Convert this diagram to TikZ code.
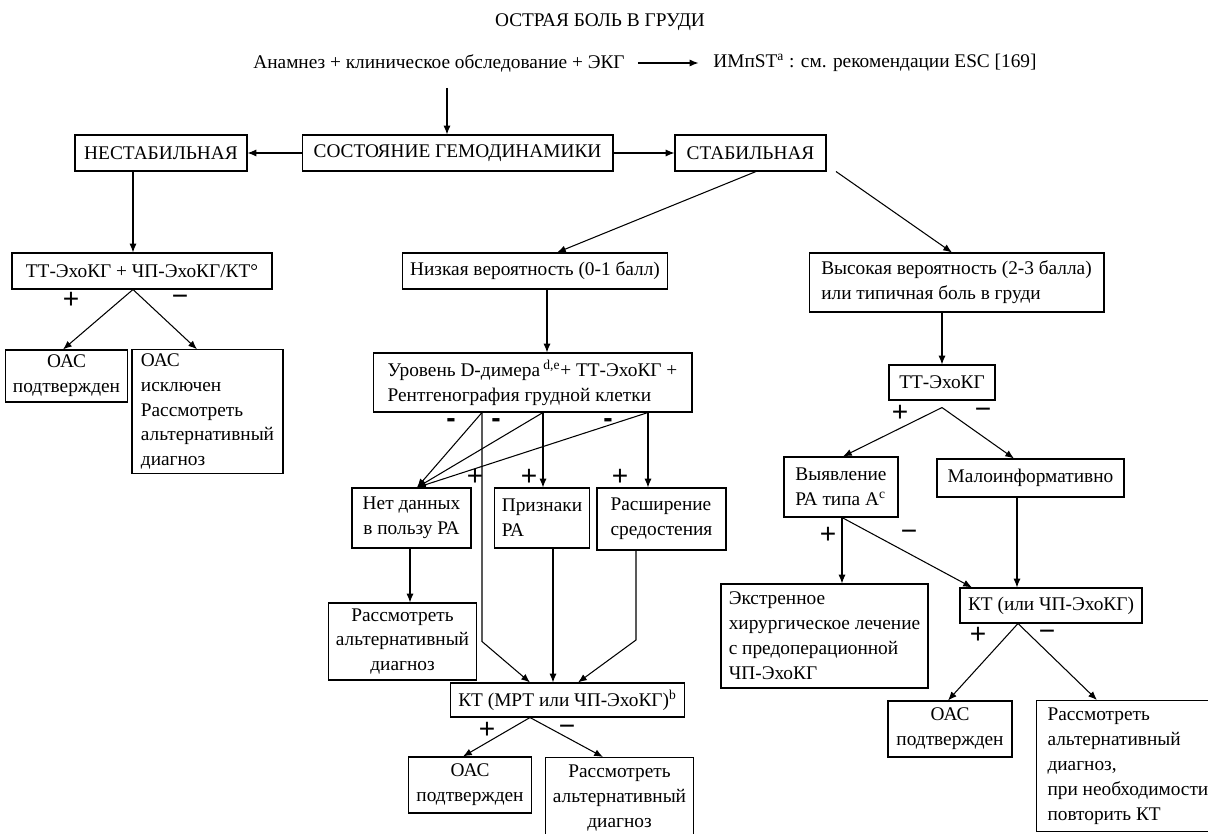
\documentclass[tikz,border=0pt]{standalone}
\usepackage{fontspec}
\setmainfont{Liberation Serif}
\newfontfamily\signfont{Liberation Sans}
\usetikzlibrary{arrows.meta}

\begin{document}
\begin{tikzpicture}[x=0.02cm, y=-0.02cm, font=\fontsize{11}{14.2}\selectfont, >={Latex[length=5pt,width=4pt]}] %pixel units, y downwards
\tikzstyle{box} = [draw, line width=0.6pt, inner xsep=0.15cm, inner ysep=2pt]
\tikzstyle{arr} = [->, line width=0.6pt]
\tikzstyle{sign} = [font=\signfont\fontsize{16}{16}\selectfont]
\tikzstyle{signb} = [font=\signfont\bfseries\fontsize{16}{16}\selectfont, inner sep=1pt, text height=6pt, text depth=0pt]
\useasboundingbox (0,0) rectangle (1208,834);
\clip (0,0) rectangle (1208,834);

% head
\node (title) at (600,22) {ОСТРАЯ БОЛЬ В ГРУДИ};
\node (hist) at (439,63) {Анамнез + клиническое обследование + ЭКГ};
\node (stemi) at (875,63) {ИМпST\textsuperscript{a} : см. рекомендации ESC [169]};
\coordinate (h0) at (447,88);

% hemodynamics
\node[box, minimum width=3.44cm, minimum height=0.72cm] (unstable) at (161,153) {НЕСТАБИЛЬНАЯ};
\node[box, minimum width=6.22cm, minimum height=0.72cm] (hemo) at (457.5,153) {СОСТОЯНИЕ ГЕМОДИНАМИКИ};
\node[box, minimum width=3.02cm, minimum height=0.72cm] (stable) at (750.5,153) {СТАБИЛЬНАЯ};

% unstable branch
\node[box, minimum width=5.2cm, minimum height=0.72cm] (echo1) at (142,271) {ТТ-ЭхоКГ + ЧП-ЭхоКГ/КТ°};
\node[box, minimum width=2.18cm, minimum height=1.04cm, align=center] (oac1) at (66.5,376) {ОАС\\подтвержден};
\node[box, minimum width=3.02cm, minimum height=2.46cm, align=left] (excl) at (207.5,411.5) {ОАС\\исключен\\Рассмотреть\\альтернативный\\диагноз};

% low probability
\node[box, minimum width=5.2cm, minimum height=0.72cm] (low) at (535,271) {Низкая вероятность (0-1 балл)};
\node[box, minimum width=6.38cm, minimum height=1.18cm, align=left] (ddim) at (532.5,382.5) {Уровень D-димера\,\textsuperscript{d,e}+ ТТ-ЭхоКГ +\\Рентгенография грудной клетки};
\node[box, minimum width=2.38cm, minimum height=1.2cm, align=center] (nodata) at (411.5,518) {Нет данных\\в пользу РА};
\node[box, minimum width=1.84cm, minimum height=1.2cm, align=left] (signs) at (542,518) {Признаки\\РА};
\node[box, minimum width=2.58cm, minimum height=1.24cm, align=left] (widen) at (661.5,519) {Расширение\\средостения};
\node[box, minimum width=2.9cm, minimum height=1.54cm, align=center] (altM) at (402.5,641.5) {Рассмотреть\\альтернативный\\диагноз};
\node[box, minimum width=4.58cm, minimum height=0.68cm] (ctM) at (567.5,700) {КТ (МРТ или ЧП-ЭхоКГ)\textsuperscript{b}};
\node[box, minimum width=2.28cm, minimum height=1.12cm, align=center] (oacM) at (470,785) {ОАС\\подтвержден};
\node[box, minimum width=2.9cm, inner ysep=4pt, anchor=north, align=center] (altB) at (619.5,757) {Рассмотреть\\альтернативный\\диагноз};

% high probability
\node[box, minimum width=5.9cm, minimum height=1.18cm, align=left] (high) at (956.5,282.5) {Высокая вероятность (2-3 балла)\\или типичная боль в груди};
\node[box, minimum width=2.12cm, minimum height=0.7cm] (tte) at (942,382.5) {ТТ-ЭхоКГ};
\node[box, minimum width=2.28cm, minimum height=1.2cm, align=left] (dissA) at (841,487) {Выявление\\РА типа А\textsuperscript{c}};
\node[box, minimum width=3.74cm, minimum height=0.76cm] (nondiag) at (1030.5,478) {Малоинформативно};
\node[box, minimum width=4.14cm, minimum height=2.08cm, align=left] (surg) at (824.5,636) {Экстренное\\хирургическое лечение\\с предоперационной\\ЧП-ЭхоКГ};
\node[box, minimum width=3.64cm, minimum height=0.7cm] (ctR) at (1051,605.5) {КТ (или ЧП-ЭхоКГ)};
\node[box, minimum width=2.48cm, minimum height=1.12cm, align=center] (oacR) at (950,729) {ОАС\\подтвержден};
\node[box, minimum width=3.58cm, inner xsep=0.22cm, inner ysep=4pt, anchor=north west, align=left] (altR) at (1036,700) {Рассмотреть\\альтернативный\\диагноз,\\при необходимости\\повторить КТ};

% arrows
\draw[arr, shorten <=4pt, shorten >=5pt] (hist) -- (stemi);
\draw[arr] (h0) -- (h0 |- hemo.north);
\draw[arr] (hemo) -- (unstable);
\draw[arr] (hemo) -- (stable);
\draw[arr] (unstable.south -| 133,0) -- (echo1.north -| 133,0);
\draw[arr] (stable.south -| 756,0) -- (low.north -| 557,0);
\draw[arr] (stable.south -| 836,0) -- (high.north -| 952,0);
\draw[arr] (echo1.south -| 133,0) -- (oac1.north -| 63,0);
\draw[arr] (echo1.south -| 133,0) -- (excl.north -| 197,0);

\draw[arr] (low.south -| 547,0) -- (ddim.north -| 547,0);
\coordinate (d1) at (ddim.south -| 482,0);
\coordinate (d2) at (ddim.south -| 543,0);
\coordinate (d3) at (ddim.south -| 648,0);
\foreach \p in {d1,d2,d3}
\draw[arr] (\p) -- (nodata.north -| 417,0);
\draw[arr] (d2) -- (signs.north -| 543,0);
\draw[arr] (d3) -- (widen.north -| 648,0);
\draw[arr] (d1) -- (d1 |- altM.east) -- (ctM.north -| 530,0);
\draw[arr] (nodata.south -| 410,0) -- (altM.north -| 410,0);
\draw[arr] (signs.south -| 553,0) -- (ctM.north -| 553,0);
\draw[arr] (widen.south -| 636,0) -- (636,640) -- (ctM.north -| 578,0);
\draw[arr] (ctM.south -| 530,0) -- (oacM.north -| 463,0);
\draw[arr] (ctM.south -| 530,0) -- (altB.north -| 603,0);

\draw[arr] (high.south -| 942,0) -- (tte.north);
\draw[arr] ([yshift=-4pt]tte.south) -- (dissA.north -| 843,0);
\draw[arr] ([yshift=-4pt]tte.south) -- (nondiag.north -| 1014,0);
\draw[arr] (dissA.south -| 842,0) -- (surg.north -| 842,0);
\draw[arr] (dissA.south -| 842,0) -- (ctR.north -| 972,0);
\draw[arr] (nondiag.south -| 1017,0) -- (ctR.north -| 1017,0);
\draw[arr] (ctR.south -| 1018,0) -- (oacR.north -| 948,0);
\draw[arr] (ctR.south -| 1018,0) -- (altR.north -| 1097,0);

% plus / minus marks
\foreach \x/\y/\s [count=\i] in {71/300/+, 180/300/−, 475/477/+, 529/477/+, 620/477/+, 487/730/+, 567/730/−, 900/413/+, 983/413/−, 828/535/+, 909/535/−, 978/635/+, 1047/635/−}
\node[sign] (sg\i) at (\x,\y) {\s};
\foreach \x/\y [count=\i] in {451/422, 496/422, 608/422}
\node[signb] (sb\i) at (\x,\y) {-};
\end{tikzpicture}
\end{document}
